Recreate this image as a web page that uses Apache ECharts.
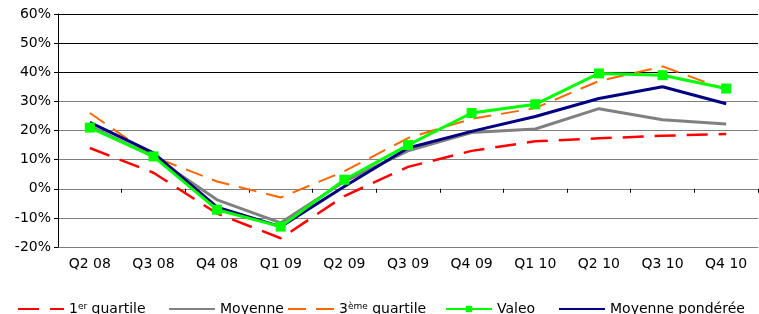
<!DOCTYPE html>
<html>
<head>
<meta charset="utf-8">
<script src="https://cdn.jsdelivr.net/npm/echarts@6/dist/echarts.min.js"></script>
<style>
  html, body { margin: 0; padding: 0; background: #fff; }
  #chart { width: 759px; height: 314px; }
</style>
</head>
<body>
<div id="chart"></div>
<script>
    var quarters = ['Q2 08', 'Q3 08', 'Q4 08', 'Q1 09', 'Q2 09', 'Q3 09', 'Q4 09', 'Q1 10', 'Q2 10', 'Q3 10', 'Q4 10'];
    var yTicks = [-20, 60, 10]; // min, max, step

    var quartile1 = [14, 5.5, -8.5, -17, -2.5, 7.5, 13, 16.3, 17.3, 18.2, 18.8];
    var moyenne = [21.5, 11, -3.8, -11.7, 2.5, 13, 19.3, 20.5, 27.5, 23.7, 22.2];
    var quartile3 = [26, 11, 2.5, -3, 6, 17.4, 24, 27.7, 37, 42, 34];
    var valeo = [21, 11.1, -7.2, -13, 3.1, 15, 26, 29, 39.6, 39, 34.4];
    var moyennePonderee = [22.8, 12.3, -6.3, -13, 0.8, 14, 19.7, 24.8, 31, 35, 29.2];

    var names = ['1er quartile', 'Moyenne', '3ème quartile', 'Valeo', 'Moyenne pondérée'];
    var legendLeft = [17, 168, 287, 445, 558];

    var font = '"DejaVu Sans", sans-serif';

    function legendText(name) {
        if (name === '1er quartile') return '1{sup|er} quartile';
        if (name === '3ème quartile') return '3{sup|ème} quartile';
        return name;
    }

    var legends = [];
    for (var i = 0; i < names.length; i++) {
        legends.push({
            data: [names[i]],
            left: legendLeft[i],
            top: 302,
            padding: 0,
            itemWidth: 46,
            itemHeight: 8,
            itemGap: 0,
            itemStyle: names[i] === 'Valeo' ? {} : { opacity: 0 },
            formatter: legendText,
            textStyle: {
                color: '#000',
                fontFamily: font,
                fontSize: 14,
                lineHeight: 14,
                rich: {
                    sup: { fontSize: 9, verticalAlign: 'top', lineHeight: 14, fontFamily: font, color: '#000' }
                }
            }
        });
    }

    var chart = echarts.init(document.getElementById('chart'));
    var option = {
        animation: false,
        backgroundColor: '#fff',
        legend: legends,
        grid: { left: 58, right: 1, top: 14, bottom: 67, containLabel: false },
        xAxis: [
            {
                type: 'category',
                data: quarters,
                position: 'bottom',
                axisLine: { show: false, onZero: false },
                axisTick: { show: false },
                axisLabel: { color: '#000', fontFamily: font, fontSize: 14, margin: 10 }
            },
            {
                type: 'category',
                data: quarters,
                position: 'top',
                axisLine: { show: true, onZero: true, lineStyle: { color: '#7f7f7f', width: 1 } },
                axisTick: { show: true, inside: true, length: 4, lineStyle: { color: '#000' } },
                axisLabel: { show: false }
            }
        ],
        yAxis: {
            type: 'value',
            min: yTicks[0],
            max: yTicks[1],
            interval: yTicks[2],
            axisLine: { show: true, lineStyle: { color: '#000', width: 1 } },
            axisTick: { show: true, length: 4, lineStyle: { color: '#000' } },
            axisLabel: { color: '#000', fontFamily: font, fontSize: 14, margin: 7, formatter: '{value}%' },
            splitLine: {
                show: true,
                lineStyle: {
                    color: ['#7f7f7f', '#7f7f7f', '#7f7f7f', '#7f7f7f', '#7f7f7f', '#7f7f7f', '#000', '#000', '#000'],
                    width: 1
                }
            }
        },
        series: [
            {
                name: names[0], type: 'line', data: quartile1, symbol: 'none', z: 2,
                itemStyle: { color: '#ff0000' },
                lineStyle: { color: '#ff0000', width: 2.5, type: [21, 11] }
            },
            {
                name: names[1], type: 'line', data: moyenne, symbol: 'none', z: 3,
                itemStyle: { color: '#808080' },
                lineStyle: { color: '#808080', width: 3 }
            },
            {
                name: names[2], type: 'line', data: quartile3, symbol: 'none', z: 4,
                itemStyle: { color: '#ff6600' },
                lineStyle: { color: '#ff6600', width: 2, type: [18, 10] }
            },
            {
                name: names[4], type: 'line', data: moyennePonderee, symbol: 'none', z: 5,
                itemStyle: { color: '#000080' },
                lineStyle: { color: '#000080', width: 3 }
            },
            {
                name: names[3], type: 'line', data: valeo, symbol: 'rect', symbolSize: 10, z: 6,
                itemStyle: { color: '#00ff00' },
                lineStyle: { color: '#00ff00', width: 3 }
            }
        ]
    };
    chart.setOption(option);
</script>
</body>
</html>
